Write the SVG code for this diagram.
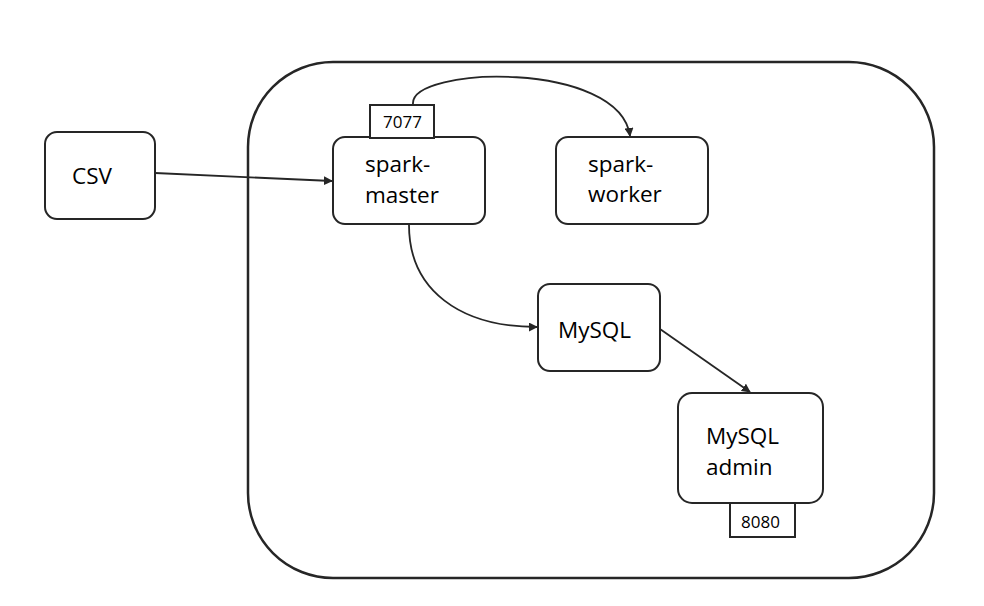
<svg xmlns="http://www.w3.org/2000/svg" width="984" height="606" viewBox="0 0 984 606">
<defs>
<style>
.box{fill:#fff;stroke:#262626;stroke-width:2}
.port{fill:#fff;stroke:#262626;stroke-width:2}
.lbl{font-family:"Open Sans","Liberation Sans",sans-serif;font-size:22.5px;fill:#000}
.plbl{font-family:"Open Sans","Liberation Sans",sans-serif;font-size:17px;fill:#000}
.edge{fill:none;stroke:#262626;stroke-width:1.8}
</style>
<marker id="arr" viewBox="0 0 10 10" refX="9" refY="5" markerWidth="9" markerHeight="9" markerUnits="userSpaceOnUse" orient="auto"><path d="M0,0 L10,5 L0,10 z" fill="#262626"/></marker>
</defs>
<rect width="984" height="606" fill="#fff"/>
<g id="cluster"><rect x="248" y="62" width="686" height="516" rx="85" ry="85" fill="none" stroke="#262626" stroke-width="2.5"/></g>
<g id="connectors">
<path class="edge" d="M155,173 L332,181" marker-end="url(#arr)"/>
<path class="edge" d="M413,104 C410,66 620,60 630,136" marker-end="url(#arr)"/>
<path class="edge" d="M409,225 C409,290 460,327 537,327" marker-end="url(#arr)"/>
<path class="edge" d="M660,329 L750,392" marker-end="url(#arr)"/>
</g>
<g id="csv"><rect class="box" x="45" y="132" width="110" height="87" rx="12"/><text class="lbl" x="72" y="184">CSV</text></g>
<g id="spark-master"><rect class="box" x="333" y="137" width="152" height="87" rx="12"/><text class="lbl" x="365" y="172">spark-</text><text class="lbl" x="365" y="203">master</text></g>
<g id="port-7077"><rect class="port" x="370" y="105" width="64" height="33"/><text class="plbl" x="383" y="128">7077</text></g>
<g id="spark-worker"><rect class="box" x="556" y="137" width="152" height="87" rx="12"/><text class="lbl" x="588" y="172">spark-</text><text class="lbl" x="588" y="202">worker</text></g>
<g id="mysql"><rect class="box" x="538" y="284" width="122" height="87" rx="12"/><text class="lbl" x="558" y="338">MySQL</text></g>
<g id="mysql-admin"><rect class="box" x="678" y="393" width="145" height="110" rx="14"/><text class="lbl" x="706" y="444">MySQL</text><text class="lbl" x="706" y="475">admin</text></g>
<g id="port-8080"><rect class="port" x="730" y="503" width="65" height="34"/><text class="plbl" x="741" y="528">8080</text></g>
</svg>
